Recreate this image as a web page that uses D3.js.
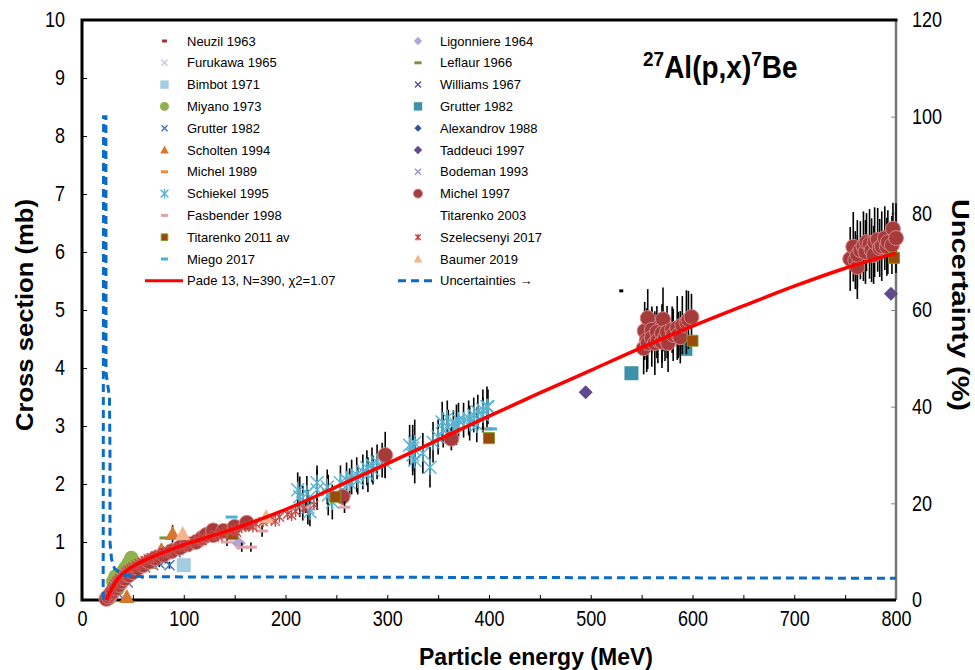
<!DOCTYPE html>
<html>
<head>
<meta charset="utf-8">
<script src="https://cdn.jsdelivr.net/npm/d3@7"></script>
<style>
  body { margin: 0; background: #fff; }
  text { font-family: "Liberation Sans", Arial, sans-serif; }
</style>
</head>
<body>
<div id="chart"></div>
<script>
// tick values
var energyTicks = [0, 50, 100, 150, 200, 250, 300, 350, 400, 450, 500, 550, 600, 650, 700, 750, 800];
var sigmaTicks = [0, 1, 2, 3, 4, 5, 6, 7, 8, 9, 10];
var uncTicks = [0, 20, 40, 60, 80, 100, 120];

// data: [energy MeV, cross section mb, error mb]
var neuzil1963 = [[30, 0.17, 0]];
var ligonniere1964 = [[97, 0.95, 0], [154, 0.98, 0]];
var furukawa1965 = [[40, 0.42, 0], [70, 0.7, 0]];
var leflaur1966 = [[65, 0.62, 0], [82, 1.07, 0]];
var bimbot1971 = [[100, 0.6, 0.1]];
var williams1967 = [[90, 0.86, 0]];
var miyano1973 = [[27, 0.04, 0], [29, 0.1, 0], [30.5, 0.16, 0], [31, 0.32, 0], [32, 0.22, 0], [33, 0.4, 0],
  [33.5, 0.28, 0], [35, 0.2, 0], [35, 0.33, 0], [36.5, 0.37, 0], [38, 0.42, 0], [39.5, 0.46, 0],
  [41, 0.5, 0], [43, 0.55, 0], [45, 0.6, 0], [47, 0.66, 0], [48.5, 0.72, 0]];
var grutter1982x = [[35, 0.12, 0], [45, 0.3, 0.03], [55, 0.45, 0.04], [62, 0.56, 0.05], [70, 0.6, 0.05],
  [76, 0.63, 0.06], [82, 0.69, 0.06], [86, 0.6, 0.06], [92, 0.82, 0.07]];
var grutter1982sq = [[540, 3.91, 0.1], [593, 4.33, 0.08]];
var alexandrov1988 = [[97, 0.9, 0]];
var scholten1994 = [[44, 0.05, 0.03], [66, 0.64, 0.06], [78, 0.86, 0.1], [89, 1.14, 0.15]];
var taddeuci1997 = [[495, 3.58, 0], [795, 5.28, 0]];
var michel1989 = [[45, 0.52, 0], [60, 0.68, 0], [398, 2.95, 0]];
var bodeman1993 = [[75, 0.7, 0], [97, 1.0, 0]];
var schiekel1995 = [
  [212, 1.9, 0.3], [214, 1.78, 0.35], [217, 1.67, 0.3], [221, 1.84, 0.3], [222, 1.6, 0.3], [224, 1.52, 0.25],
  [231, 2.02, 0.3], [231, 1.9, 0.35], [241, 1.95, 0.3], [242, 1.81, 0.35], [246, 1.69, 0.3], [254, 2.02, 0.3],
  [260, 2.07, 0.3], [263, 2.02, 0.25], [265, 2.12, 0.3], [270, 2.16, 0.3], [271, 2.07, 0.25], [276, 2.21, 0.3],
  [280, 2.28, 0.3], [281, 2.16, 0.3], [285, 2.33, 0.3], [286, 2.24, 0.25], [290, 2.38, 0.3], [295, 2.41, 0.3],
  [298, 2.36, 0.25], [322, 2.67, 0.35], [325, 2.62, 0.4], [325, 2.5, 0.35], [327, 2.71, 0.4], [327, 2.41, 0.4],
  [335, 2.53, 0.35], [342, 2.29, 0.35], [345, 2.72, 0.35], [350, 2.81, 0.3], [354, 3.07, 0.35], [355, 2.93, 0.3],
  [359, 3.14, 0.3], [360, 2.98, 0.3], [365, 2.97, 0.3], [368, 3.02, 0.35], [370, 3.1, 0.3], [375, 3.1, 0.3],
  [380, 3.14, 0.3], [381, 3.05, 0.3], [385, 3.19, 0.3], [388, 3.02, 0.3], [389, 3.24, 0.3], [394, 3.28, 0.35],
  [394, 3.19, 0.3], [398, 3.33, 0.35], [399, 3.33, 0.3]];
var michel1997 = [
  [24, 0.02, 0.01], [26, 0.06, 0.01], [28, 0.1, 0.02], [30, 0.14, 0.02], [33, 0.2, 0.02], [36, 0.26, 0.03],
  [39, 0.32, 0.03], [42, 0.37, 0.03], [46, 0.43, 0.04], [50, 0.48, 0.04], [55, 0.55, 0.04], [60, 0.6, 0.05],
  [66, 0.66, 0.05], [72, 0.72, 0.05], [80, 0.78, 0.06], [88, 0.84, 0.06], [96, 0.9, 0.07], [104, 0.96, 0.07],
  [112, 1.0, 0.08], [118, 1.07, 0.08], [122, 1.12, 0.08], [129, 1.12, 0.08], [129, 1.2, 0.09], [139, 1.19, 0.09],
  [150, 1.26, 0.09], [162, 1.33, 0.1], [256, 1.78, 0.14], [298, 2.5, 0.4], [363, 2.78, 0.2],
  [552, 4.34, 0.45], [553, 4.64, 0.5], [555, 4.48, 0.55], [556, 4.86, 0.5], [556, 4.43, 0.45], [560, 4.66, 0.4],
  [560, 4.52, 0.5], [563, 4.43, 0.55], [565, 4.62, 0.45], [566, 4.48, 0.4], [570, 4.6, 0.5], [570, 4.45, 0.45],
  [571, 4.84, 0.55], [573, 4.52, 0.4], [575, 4.62, 0.45], [576, 4.43, 0.5], [580, 4.66, 0.4], [581, 4.57, 0.45],
  [585, 4.69, 0.55], [586, 4.57, 0.4], [588, 4.53, 0.45], [590, 4.74, 0.5], [594, 4.79, 0.55], [596, 4.83, 0.5],
  [599, 4.88, 0.4],
  [755, 5.88, 0.55], [758, 6.09, 0.6], [760, 5.86, 0.5], [762, 5.74, 0.55], [762, 5.95, 0.6], [765, 6.03, 0.5],
  [768, 6.1, 0.6], [770, 6.0, 0.55], [771, 6.17, 0.5], [774, 6.14, 0.6], [776, 6.03, 0.55], [778, 5.95, 0.5],
  [779, 6.17, 0.6], [782, 6.21, 0.55], [784, 6.07, 0.5], [786, 6.1, 0.6], [789, 6.24, 0.55], [791, 6.09, 0.5],
  [792, 6.17, 0.55], [796, 6.12, 0.5], [797, 6.4, 0.45], [800, 6.24, 0.6]];
var fasbender1998 = [[142.5, 1.0, 0.07], [157, 0.91, 0.08], [166, 0.91, 0.08], [177, 1.19, 0.1], [220, 1.6, 0.1], [258, 1.6, 0.1]];
var titarenko2003 = [[530, 5.33, 0]];
var titarenko2011 = [[148, 1.14, 0], [249, 1.78, 0], [400, 2.79, 0], [600, 4.47, 0], [798, 5.9, 0]];
var szelecsenyi2017 = [
  [25.5, 0.04, 0], [26.5, 0.08, 0], [27.5, 0.12, 0], [28.5, 0.15, 0], [29.5, 0.19, 0], [31, 0.23, 0],
  [32.5, 0.27, 0], [34, 0.31, 0], [35.5, 0.34, 0], [37, 0.37, 0], [39, 0.41, 0], [41, 0.44, 0], [43, 0.48, 0],
  [45, 0.51, 0], [47.5, 0.54, 0], [50, 0.57, 0], [53, 0.6, 0], [56, 0.63, 0], [59, 0.66, 0], [62, 0.68, 0],
  [65, 0.71, 0], [68, 0.73, 0], [72, 0.76, 0], [76, 0.79, 0], [80, 0.81, 0], [84, 0.84, 0], [88, 0.87, 0],
  [92, 0.9, 0], [96, 0.92, 0], [100, 0.95, 0], [105, 0.98, 0], [110, 1.01, 0], [115, 1.04, 0], [120, 1.07, 0],
  [126, 1.1, 0], [132, 1.13, 0], [138, 1.16, 0], [144, 1.19, 0], [150, 1.21, 0], [157, 1.25, 0], [164, 1.28, 0],
  [171, 1.31, 0], [178, 1.35, 0], [186, 1.39, 0], [194, 1.43, 0], [202, 1.48, 0], [210, 1.53, 0], [218, 1.58, 0],
  [228, 1.64, 0],
  [58, 0.6, 0], [70, 0.7, 0], [86, 0.8, 0], [102, 0.91, 0], [118, 1.02, 0], [134, 1.1, 0], [152, 1.17, 0],
  [168, 1.26, 0], [190, 1.36, 0], [206, 1.46, 0]];
var miego2017 = [[147, 1.43, 0], [402, 2.95, 0]];
var baumer2019 = [[99, 1.14, 0.05], [181, 1.43, 0.05]];

// Pade fit
var padeFit = [[24, 0.0], [28, 0.15], [32, 0.28], [36, 0.38], [40, 0.45], [50, 0.58], [60, 0.67], [80, 0.82],
  [100, 0.95], [125, 1.09], [150, 1.23], [175, 1.39], [200, 1.56], [250, 1.95], [300, 2.35], [350, 2.76],
  [400, 3.17], [450, 3.57], [500, 3.96], [550, 4.35], [600, 4.72], [650, 5.07], [700, 5.41], [750, 5.72], [800, 5.98]];
// uncertainty of the fit (%)
var fitUncertainty = [[20.8, 0], [21.2, 100], [23.5, 100], [23.6, 47], [27, 42], [27.5, 30], [27.5, 12],
  [29, 8.5], [32, 6.5], [40, 5.2], [60, 4.8], [800, 4.5]];

var series = [
  { name: "Neuzil 1963", data: neuzil1963, marker: "dash", color: "#a0302d", size: 4 },
  { name: "Ligonniere 1964", data: ligonniere1964, marker: "diamond", color: "#b3a6d3", size: 7 },
  { name: "Furukawa 1965", data: furukawa1965, marker: "x", color: "#c5c8e6", size: 5 },
  { name: "Leflaur 1966", data: leflaur1966, marker: "dash", color: "#77933c", size: 6 },
  { name: "Bimbot 1971", data: bimbot1971, marker: "square", color: "#a5cde0", size: 7 },
  { name: "Williams 1967", data: williams1967, marker: "x", color: "#5f4b8b", size: 5 },
  { name: "Miyano 1973", data: miyano1973, marker: "circle", color: "#8fb24f", size: 7.5 },
  { name: "Grutter 1982", data: grutter1982x, marker: "x", color: "#4472c4", size: 5 },
  { name: "Grutter 1982", data: grutter1982sq, marker: "square", color: "#3d91a8", size: 7 },
  { name: "Alexandrov 1988", data: alexandrov1988, marker: "diamond", color: "#2f528f", size: 6 },
  { name: "Scholten 1994", data: scholten1994, marker: "triangle", color: "#d6782e", size: 8 },
  { name: "Taddeuci 1997", data: taddeuci1997, marker: "diamond", color: "#604a8b", size: 7 },
  { name: "Michel 1989", data: michel1989, marker: "dash", color: "#f08a3c", size: 6 },
  { name: "Bodeman 1993", data: bodeman1993, marker: "x", color: "#9b8dc8", size: 5 },
  { name: "Schiekel 1995", data: schiekel1995, marker: "asterisk", color: "#55b4d4", size: 6.5 },
  { name: "Michel 1997", data: michel1997, marker: "circle", color: "#a63b3b", stroke: "#d88585", size: 7.5 },
  { name: "Fasbender 1998", data: fasbender1998, marker: "dash", color: "#e3a3aa", size: 6 },
  { name: "Titarenko 2003", data: titarenko2003, marker: "dash", color: "#000", size: 2, noLegend: true },
  { name: "Titarenko 2011 av", data: titarenko2011, marker: "square", color: "#9c4a0a", stroke: "#7f9a2a", size: 5.5 },
  { name: "Szelecsenyi 2017", data: szelecsenyi2017, marker: "asterisk", color: "#c84a47", size: 4.5 },
  { name: "Miego 2017", data: miego2017, marker: "dash", color: "#49b2d6", size: 6 },
  { name: "Baumer 2019", data: baumer2019, marker: "triangle", color: "#f6b48c", size: 8 }
];

var legendCol1 = ["Neuzil 1963", "Furukawa 1965", "Bimbot 1971", "Miyano 1973", 0, "Scholten 1994",
  "Michel 1989", "Schiekel 1995", "Fasbender 1998", "Titarenko 2011 av", "Miego 2017"];
var legendCol2 = ["Ligonniere 1964", "Leflaur 1966", "Williams 1967", 1, "Alexandrov 1988", "Taddeuci 1997",
  "Bodeman 1993", "Michel 1997", "Titarenko 2003", "Szelecsenyi 2017", "Baumer 2019"];

var width = 975, height = 670;
var svg = d3.select("#chart").append("svg").attr("width", width).attr("height", height);

var x = d3.scaleLinear().domain([0, 800]).range([82, 896]);
var y = d3.scaleLinear().domain([0, 10]).range([600, 20]);
var y2 = d3.scaleLinear().domain([0, 120]).range([600, 20]);

function markerPath(type, s) {
  if (type == "circle") return d3.symbol(d3.symbolCircle, Math.PI * s * s)();
  if (type == "square") return "M" + (-s) + "," + (-s) + "H" + s + "V" + s + "H" + (-s) + "Z";
  if (type == "diamond") return "M0," + (-s) + "L" + s + ",0L0," + s + "L" + (-s) + ",0Z";
  if (type == "triangle") return "M0," + (-s) + "L" + (s * 0.95) + "," + (s * 0.75) + "L" + (-s * 0.95) + "," + (s * 0.75) + "Z";
  if (type == "x") return "M" + (-s) + "," + (-s) + "L" + s + "," + s + "M" + (-s) + "," + s + "L" + s + "," + (-s);
  if (type == "asterisk") return "M" + (-s) + "," + (-s) + "L" + s + "," + s + "M" + (-s) + "," + s + "L" + s + "," + (-s) +
    "M0," + (-s * 1.25) + "L0," + (s * 1.25);
  if (type == "dash") return "M" + (-s) + ",-1.5H" + s + "V1.5H" + (-s) + "Z";
  return "";
}

function styleMarker(sel, sr) {
  var lined = sr.marker == "x" || sr.marker == "asterisk";
  sel.attr("fill", lined ? "none" : sr.color)
    .attr("stroke", lined ? sr.color : (sr.stroke || "none"))
    .attr("stroke-width", lined ? 1.4 : 1);
}

// tick labels look a bit taller than plain Arial in the original
function tallText(g) {
  g.selectAll("text").attr("font-size", 18).attr("fill", "#000").attr("transform", "scale(1,1.18)");
}

// axes with ticks pointing inward
svg.append("g")
    .attr("transform", "translate(82,0)")
    .call(d3.axisLeft(y).tickValues(sigmaTicks).tickSize(-5).tickPadding(17))
    .call(function(g) { g.select(".domain").remove(); })
    .call(tallText);

svg.append("g")
    .attr("transform", "translate(0,600)")
    .call(d3.axisBottom(x).tickValues(energyTicks).tickSize(-5).tickPadding(9)
      .tickFormat(function(d) { return d % 100 == 0 ? d : ""; }))
    .call(function(g) { g.select(".domain").remove(); })
    .call(tallText);

svg.append("g")
    .attr("transform", "translate(896,0)")
    .call(d3.axisRight(y2).tickValues(uncTicks).tickSize(-5).tickPadding(16))
    .call(function(g) { g.select(".domain").remove(); })
    .call(function(g) { g.selectAll("line").attr("stroke", "#888"); })
    .call(tallText);

// frame
svg.append("line").attr("x1", 896).attr("x2", 896).attr("y1", 20).attr("y2", 600)
    .attr("stroke", "#777").attr("stroke-width", 2.5);
svg.append("path").attr("d", "M82,20V600H896M80.5,20H897.5")
    .attr("fill", "none").attr("stroke", "#000").attr("stroke-width", 3);

var plot = svg.append("g");

series.forEach(function(sr) {
  var g = plot.append("g");
  g.selectAll("line").data(sr.data.filter(function(d) { return d[2] > 0; })).join("line")
      .attr("x1", function(d) { return x(d[0]); })
      .attr("x2", function(d) { return x(d[0]); })
      .attr("y1", function(d) { return y(d[1] - d[2]); })
      .attr("y2", function(d) { return y(d[1] + d[2]); })
      .attr("stroke", "#000").attr("stroke-width", 1.6);
  g.selectAll("path").data(sr.data).join("path")
      .attr("transform", function(d) { return "translate(" + x(d[0]) + "," + y(d[1]) + ")"; })
      .attr("d", markerPath(sr.marker, sr.size))
      .call(styleMarker, sr);
});

// fit curve and its uncertainty
var fitLine = d3.line()
    .x(function(d) { return x(d[0]); })
    .y(function(d) { return y(d[1]); })
    .curve(d3.curveMonotoneX);
plot.append("path").datum(padeFit)
    .attr("d", fitLine)
    .attr("fill", "none").attr("stroke", "#ff0000").attr("stroke-width", 3.5);

var uncLine = d3.line()
    .x(function(d) { return x(d[0]); })
    .y(function(d) { return y2(d[1]); });
plot.append("path").datum(fitUncertainty)
    .attr("d", uncLine)
    .attr("fill", "none").attr("stroke", "#0a6cc4").attr("stroke-width", 3)
    .attr("stroke-dasharray", "8,5");

// legend
var legend = svg.append("g").attr("font-size", 13);
function findSeries(key) {
  if (key === 0) return series[7];
  if (key === 1) return series[8];
  return series.find(function(s) { return s.name == key; });
}
function legendRow(key, mx, tx, ly) {
  var sr = findSeries(key);
  if (!sr.noLegend) {
    legend.append("path")
        .attr("transform", "translate(" + mx + "," + ly + ")")
        .attr("d", markerPath(sr.marker, Math.min(sr.size * 0.6, 4.5)))
        .call(styleMarker, sr);
  }
  legend.append("text").attr("x", tx).attr("y", ly).attr("dy", "0.35em").text(sr.name);
}
legendCol1.forEach(function(k, i) { legendRow(k, 164.5, 187, 41 + i * 21.8); });
legendCol2.forEach(function(k, i) { legendRow(k, 418, 440, 41 + i * 21.8); });

var lastY = 41 + 11 * 21.8;
legend.append("line").attr("x1", 145).attr("x2", 183).attr("y1", lastY).attr("y2", lastY)
    .attr("stroke", "#ff0000").attr("stroke-width", 3);
legend.append("text").attr("x", 187).attr("y", lastY).attr("dy", "0.35em").text("Pade 13, N=390, \u03c72=1.07");
legend.append("line").attr("x1", 398).attr("x2", 434).attr("y1", lastY).attr("y2", lastY)
    .attr("stroke", "#0a6cc4").attr("stroke-width", 3).attr("stroke-dasharray", "8,5");
legend.append("text").attr("x", 440).attr("y", lastY).attr("dy", "0.35em").text("Uncertainties \u2192");

// title and axis labels
var title = svg.append("text").attr("transform", "translate(643,78) scale(1,1.1)")
    .attr("font-size", 28).attr("font-weight", "bold");
title.append("tspan").attr("font-size", 19).attr("dy", -11).text("27");
title.append("tspan").attr("dy", 11).text("Al(p,x)");
title.append("tspan").attr("font-size", 19).attr("dy", -11).text("7");
title.append("tspan").attr("dy", 11).text("Be");

svg.append("text").attr("x", 536).attr("y", 665).attr("text-anchor", "middle")
    .attr("font-size", 23).attr("font-weight", "bold").text("Particle energy (MeV)");
svg.append("text").attr("transform", "translate(33,315) rotate(-90)").attr("text-anchor", "middle")
    .attr("font-size", 24).attr("font-weight", "bold")
    .attr("textLength", 232).attr("lengthAdjust", "spacingAndGlyphs").text("Cross section (mb)");
svg.append("text").attr("transform", "translate(952,305) rotate(90)").attr("text-anchor", "middle")
    .attr("font-size", 24).attr("font-weight", "bold")
    .attr("textLength", 212).attr("lengthAdjust", "spacingAndGlyphs").text("Uncertainty (%)");
</script>
</body>
</html>
